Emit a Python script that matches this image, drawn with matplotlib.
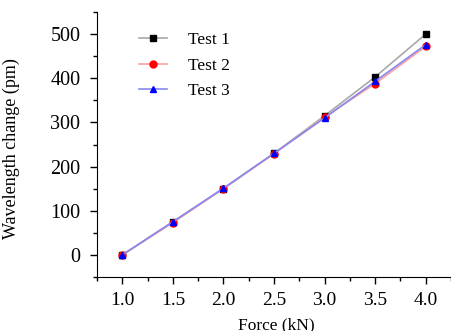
import numpy as np
import matplotlib.pyplot as plt
from matplotlib.ticker import MultipleLocator

plt.rcParams['font.family'] = ['Liberation Serif', 'DejaVu Serif']

## Data ##
force = [1.0, 1.5, 2.0, 2.5, 3.0, 3.5, 4.0]
test_1 = [0, 75, 150, 230, 315, 403, 500]
test_2 = [0, 73, 150, 229, 312, 388, 472]
test_3 = [0, 75, 151, 230, 310, 393, 476]

## Figure ##
fig = plt.figure(figsize=(4.51, 3.31), dpi=100)
ax = fig.add_axes([97/451, (331-277)/331, (451-97)/451, (277-12)/331])

ax.plot(force, test_1, color='#a8a8a8', lw=1.2, marker='s', ms=5,
        mfc='black', mec='black', label='Test 1')
ax.plot(force, test_2, color='#f8a0a0', lw=1.2, marker='o', ms=5,
        mfc='red', mec='red', label='Test 2')
ax.plot(force, test_3, color='#8888f0', lw=1.2, marker='^', ms=5,
        mfc='blue', mec='blue', label='Test 3')

ax.set_xlim(0.75, 4.25)
ax.set_ylim(-50, 550)
ax.xaxis.set_minor_locator(MultipleLocator(0.25))
ax.yaxis.set_minor_locator(MultipleLocator(50))
ax.set_xticks([1.0, 1.5, 2.0, 2.5, 3.0, 3.5, 4.0])
ax.set_xticklabels(['1.0', '1.5', '2.0', '2.5', '3.0', '3.5', '4.0'])
ax.set_yticks([0, 100, 200, 300, 400, 500])

for s in ['top', 'right']:
    ax.spines[s].set_visible(False)
ax.tick_params(which='major', direction='out', length=5, width=1)
ax.tick_params(which='minor', direction='out', length=3, width=1)
ax.tick_params(axis='x', labelsize=14, pad=6)
ax.tick_params(axis='y', labelsize=14.5, pad=7)

ax.set_xlabel('Force (kN)', fontsize=12.5)
ax.xaxis.set_label_coords(0.506, -0.151)
ax.set_ylabel('Wavelength change (pm)', fontsize=13)
ax.yaxis.set_label_coords(-0.2175, 0.483)

ax.legend(loc='upper left', bbox_to_anchor=(0.119, 0.925), frameon=False,
          borderpad=0, borderaxespad=0, fontsize=12.5, handlelength=1.6,
          handletextpad=1.2, labelspacing=0.55)

plt.savefig('out.png', dpi=100)
